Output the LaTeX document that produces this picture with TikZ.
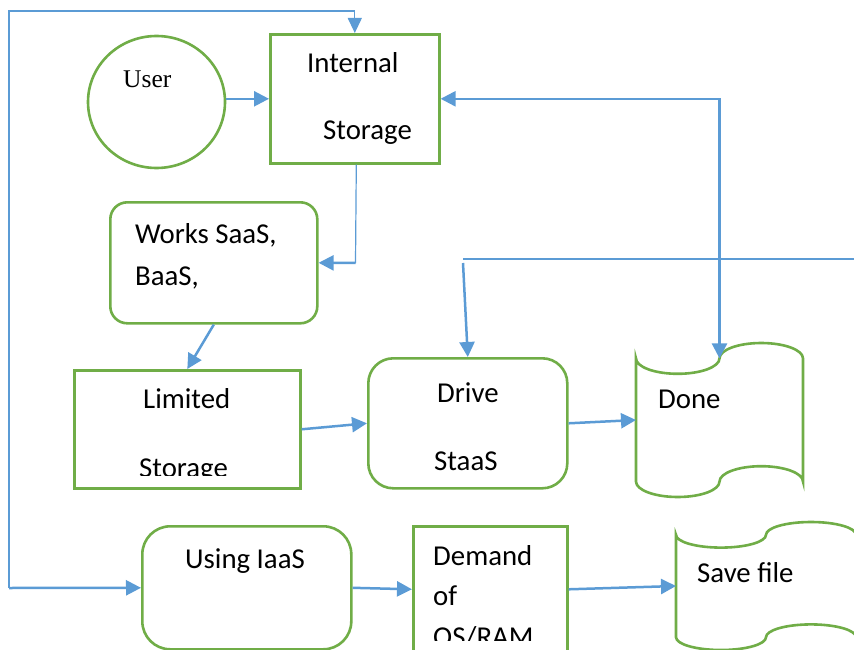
\documentclass[tikz,border=0pt]{standalone}
\usepackage{fontspec}
\setmainfont{Carlito}
\newfontfamily\serifface{Liberation Serif}
\usetikzlibrary{arrows.meta,shapes.geometric}
\definecolor{gr}{RGB}{112,173,71}
\definecolor{bl}{RGB}{91,155,213}
\tikzset{
  gbox/.style={draw=gr, line width=2.6pt, inner sep=0pt, fill=white},
  ghost/.style={inner sep=0pt, outer sep=0pt},
  thk/.style={draw=bl, line width=2.5pt, -{Triangle[length=15pt,width=15pt]}},
  thn/.style={draw=bl, line width=1.2pt},
  thnarrow/.style={draw=bl, line width=1.2pt, -{Triangle[length=15pt,width=14pt]}},
  txt/.style={inner sep=0pt, anchor=base west, font=\fontsize{28.8}{34}\selectfont},
}
\begin{document}
\begin{tikzpicture}[x=1pt,y=-1pt]
\useasboundingbox (0,0) rectangle (854,650);
\clip (0,0) rectangle (854,650);

% boxes
\node[gbox, ellipse, minimum width=137pt, minimum height=132pt] (user) at (156.5,102) {};
\node[gbox, rectangle, anchor=north west, minimum width=169pt, minimum height=129pt] (internal) at (269,33) {};
\node[gbox, rectangle, rounded corners=17pt, anchor=north west, minimum width=207pt, minimum height=121pt] (works) at (109,201) {};
\node[gbox, rectangle, anchor=north west, minimum width=226pt, minimum height=118pt] (limited) at (73,369) {};
\node[gbox, rectangle, rounded corners=25pt, anchor=north west, minimum width=199pt, minimum height=130pt] (drive) at (367,357) {};
\node[gbox, rectangle, rounded corners=28pt, anchor=north west, minimum width=209pt, minimum height=123pt] (iaas) at (141,525) {};
\node[gbox, rectangle, anchor=north west, minimum width=154pt, minimum height=126pt] (demand) at (412,525) {};

% punched tape shapes
\node[ghost, anchor=north west, minimum width=167pt, minimum height=154pt] (done) at (636,343) {};
\draw[draw=gr, line width=2.6pt, fill=white]
  ([yshift=-15.4pt]done.north west)
  arc[start angle=180, end angle=360, x radius=41.75pt, y radius=15.4pt]
  arc[start angle=180, end angle=0, x radius=41.75pt, y radius=15.4pt]
  -- ([yshift=15.4pt]done.south east)
  arc[start angle=0, end angle=180, x radius=41.75pt, y radius=15.4pt]
  arc[start angle=0, end angle=-180, x radius=41.75pt, y radius=15.4pt]
  -- cycle;
\node[ghost, anchor=north west, minimum width=180pt, minimum height=128pt] (save) at (676,522) {};
\draw[draw=gr, line width=2.6pt, fill=white]
  ([yshift=-12.8pt]save.north west)
  arc[start angle=180, end angle=360, x radius=45pt, y radius=12.8pt]
  arc[start angle=180, end angle=0, x radius=45pt, y radius=12.8pt]
  -- ([yshift=12.8pt]save.south east)
  arc[start angle=0, end angle=180, x radius=45pt, y radius=12.8pt]
  arc[start angle=0, end angle=-180, x radius=45pt, y radius=12.8pt]
  -- cycle;

% texts
\node[txt, font=\serifface\fontsize{25.5}{30}\selectfont] (tuser) at (123,88) {User};
\node[txt] (tint1) at (307,73) {Internal};
\node[txt] (tint2) at (323,140) {Storage};
\node[txt] (twork1) at (135,243) {Works SaaS,};
\node[txt] (twork2) at (135,285) {BaaS,};
\node[txt] (tlim1) at (143,408) {Limited};
\begin{scope}
  \clip (75,371) rectangle (297,475);
  \node[txt] (tlim2) at (139,477) {Storage};
\end{scope}
\node[txt] (tdr1) at (437,402) {Drive};
\node[txt] (tdr2) at (434,470) {StaaS};
\node[txt] (tdone) at (658,408) {Done};
\node[txt] (tiaas) at (185,568) {Using IaaS};
\node[txt] (tdem1) at (433,565) {Demand};
\node[txt] (tdem2) at (433,605) {of};
\begin{scope}
  \clip (414,527) rectangle (564,640);
  \node[txt] (tdem3) at (433,646) {OS/RAM};
\end{scope}
\node[txt] (tsave) at (697,582) {Save file};

% connectors
\coordinate (lt) at (9,11);
\coordinate (lb) at (9,588);
\draw[thnarrow] (lb) -- (lt) -- (lt -| internal.north) -- (internal.north);
\draw[thk] (lb) -- (iaas.west);

\draw[thk] (user.east |- internal.west) -- (internal.west);

\coordinate (c1) at (355.5,263);
\draw[thn] ([xshift=1.5pt]internal.south) -- (c1);
\draw[thk] (c1) -- (works.east);

\draw[thk] (works.south) -- (limited.north);
\draw[thk] (limited.east) -- (drive.west);
\draw[thk] (drive.east) -- (done.west);

\coordinate (donetop) at ([yshift=-15.4pt]done.north);
\draw[draw=bl, line width=2.5pt, {Triangle[length=15pt,width=15pt]}-{Triangle[length=15pt,width=15pt]}]
  (internal.east) -| (donetop);

\coordinate (r1) at (463,259);
\coordinate (r2) at (854,259);
\coordinate (r3) at (463,263);
\draw[thn] (r1) -- (r2);
\draw[thk] (r3) -- (drive.north);

\draw[thk] (iaas.east) -- (demand.west);
\draw[thk] (demand.east) -- (save.west);
\end{tikzpicture}
\end{document}
